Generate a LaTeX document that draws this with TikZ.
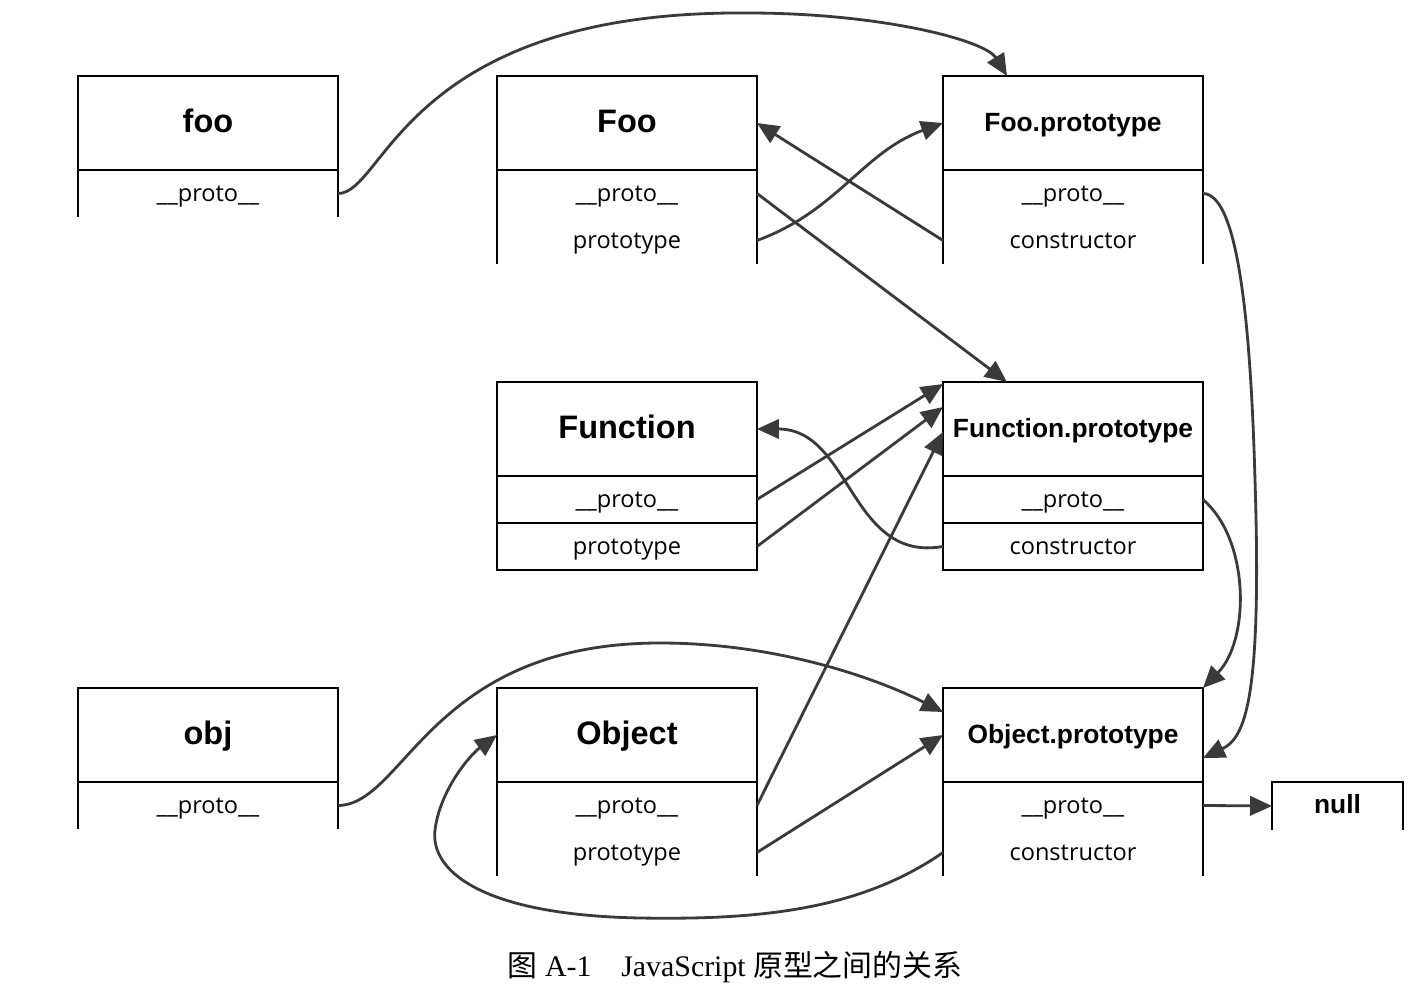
\documentclass[tikz,border=0pt]{standalone}
\usepackage{fontspec}
\usepackage{tikz}
\usetikzlibrary{positioning,arrows.meta}
\newfontfamily\headfont{Liberation Sans}
\newfontfamily\slotfont{Open Sans}
\newfontfamily\capfont{Liberation Serif}
\newfontfamily\cjkfont{Noto Sans CJK SC}
\definecolor{linkgray}{HTML}{3A3A3A}
\tikzset{
  head/.style={draw, line width=0.8pt, minimum width=5.2cm, minimum height=1.88cm,
    inner sep=0pt, outer sep=0pt, text height=10.5pt, text depth=0pt,
    font=\headfont\bfseries\fontsize{18.5}{20}\selectfont},
  headsmall/.style={head, text height=10pt, font=\headfont\bfseries\fontsize{15}{17}\selectfont},
  slot/.style={minimum width=5.2cm, minimum height=0.94cm, inner sep=0pt, outer sep=0pt,
    text height=8.6pt, text depth=0pt, font=\slotfont\fontsize{13.4}{15}\selectfont},
  cell/.style={slot, draw, line width=0.8pt},
  side/.style={line width=0.8pt},
  link/.style={draw=linkgray, line width=1.6pt, -{Triangle[length=12.5pt,width=11pt]}},
}
\begin{document}
\begin{tikzpicture}[x=0.02cm, y=-0.02cm]
            \useasboundingbox (0, 0) rectangle (1418, 990);
            \node[head] (foo) at (208, 123) {foo};
            \node[slot, below=0pt of foo] (foo1) {\_\_proto\_\_};
            \draw[side] (foo1.north west) -- (foo1.south west) (foo1.north east) -- (foo1.south east);
            \node[head] (Foo) at (627, 123) {Foo};
            \node[slot, below=0pt of Foo] (Foo1) {\_\_proto\_\_};
            \node[slot, below=0pt of Foo1] (Foo2) {prototype};
            \draw[side] (Foo1.north west) -- (Foo2.south west) (Foo1.north east) -- (Foo2.south east);
            \node[headsmall] (FP) at (1073, 123) {Foo.prototype};
            \node[slot, below=0pt of FP] (FP1) {\_\_proto\_\_};
            \node[slot, below=0pt of FP1] (FP2) {constructor};
            \draw[side] (FP1.north west) -- (FP2.south west) (FP1.north east) -- (FP2.south east);
            \node[head] (Fn) at (627, 429) {Function};
            \node[cell, below=0pt of Fn] (Fn1) {\_\_proto\_\_};
            \node[cell, below=0pt of Fn1] (Fn2) {prototype};
            \node[headsmall] (FnP) at (1073, 429) {Function.prototype};
            \node[cell, below=0pt of FnP] (FnP1) {\_\_proto\_\_};
            \node[cell, below=0pt of FnP1] (FnP2) {constructor};
            \node[head] (obj) at (208, 735) {obj};
            \node[slot, below=0pt of obj] (obj1) {\_\_proto\_\_};
            \draw[side] (obj1.north west) -- (obj1.south west) (obj1.north east) -- (obj1.south east);
            \node[head] (Obj) at (627, 735) {Object};
            \node[slot, below=0pt of Obj] (Obj1) {\_\_proto\_\_};
            \node[slot, below=0pt of Obj1] (Obj2) {prototype};
            \draw[side] (Obj1.north west) -- (Obj2.south west) (Obj1.north east) -- (Obj2.south east);
            \node[headsmall] (OP) at (1073, 735) {Object.prototype};
            \node[slot, below=0pt of OP] (OP1) {\_\_proto\_\_};
            \node[slot, below=0pt of OP1] (OP2) {constructor};
            \draw[side] (OP1.north west) -- (OP2.south west) (OP1.north east) -- (OP2.south east);
            \node[slot, minimum width=2.62cm, minimum height=0.96cm, text height=8pt,
              font=\headfont\bfseries\fontsize{15}{17}\selectfont] (null) at (1337.5, 806) {null};
            \draw[side] (null.south west) -- (null.north west) -- (null.north east) -- (null.south east);
            \draw[link] (foo1.east) .. controls (385, 194) and (405, 10) .. (748, 13)
              .. controls (880, 13) and (985, 40) .. ([xshift=1.28cm]FP.north west);
            \draw[link] (FP2.west) -- (Foo.east);
            \draw[link] (Foo2.east) to[out=20, in=200] (FP.west);
            \draw[link] (Foo1.east) -- ([xshift=1.28cm]FnP.north west);
            \draw[link] (FP1.east) .. controls (1235, 194) and (1250, 300) .. (1255, 480)
              .. controls (1262, 700) and (1245, 738) .. ([yshift=-0.46cm]OP.east);
            \draw[link] (Fn1.east) -- ([yshift=-0.04cm]FnP.north west);
            \draw[link] (Fn2.east) -- ([yshift=-0.5cm]FnP.north west);
            \draw[link] (FnP2.west) to[out=190, in=0, looseness=1.1] (Fn.east);
            \draw[link] (Obj1.east) -- ([yshift=-1cm]FnP.north west);
            \draw[link] (FnP1.east) .. controls (1250, 540) and (1250, 640) .. (OP.north east);
            \draw[link] (obj1.east) .. controls (405, 805) and (430, 643) .. (660, 643)
              .. controls (780, 643) and (880, 680) .. ([yshift=0.46cm]OP.west);
            \draw[link] (Obj2.east) -- (OP.west);
            \draw[link] (OP2.west) .. controls (860, 910) and (760, 920) .. (640, 918)
              .. controls (480, 915) and (430, 870) .. (435, 830)
              .. controls (440, 790) and (470, 755) .. (Obj.west);
            \draw[link] (OP1.east) -- (null.west);
            \node[font=\capfont\fontsize{17}{19}\selectfont] (cap) at (735, 967)
              {{\cjkfont 图} A-1{\cjkfont 　}JavaScript {\cjkfont 原型之间的关系}};
        \end{tikzpicture}
\end{document}
